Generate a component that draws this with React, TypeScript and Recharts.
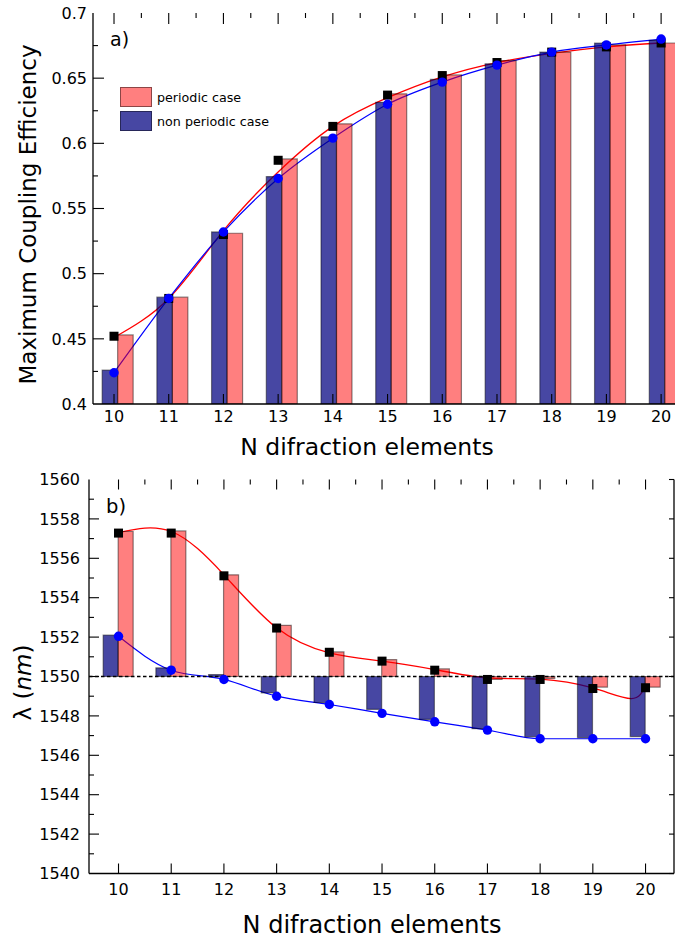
import React from 'react';
import { ComposedChart, Bar, Line, XAxis, YAxis, ReferenceLine, Legend, Rectangle } from 'recharts';

// ---------- data ----------
const N_ELEMENTS = [10, 11, 12, 13, 14, 15, 16, 17, 18, 19, 20];

// panel a) maximum coupling efficiency
const TOP_PERIODIC_BARS = [0.453, 0.482, 0.531, 0.588, 0.615, 0.638, 0.6525, 0.6635, 0.670, 0.6755, 0.677];
const TOP_NONPERIODIC_BARS = [0.426, 0.482, 0.532, 0.5745, 0.605, 0.6315, 0.649, 0.661, 0.670, 0.677, 0.679];
const TOP_PERIODIC_POINTS = [0.452, 0.481, 0.530, 0.587, 0.613, 0.637, 0.652, 0.662, 0.670, 0.674, 0.677];
const TOP_NONPERIODIC_POINTS = [0.424, 0.481, 0.532, 0.573, 0.604, 0.630, 0.647, 0.660, 0.670, 0.6755, 0.680];
const TOP_PERIODIC_FIT = [0.451, 0.481, 0.533, 0.578, 0.613, 0.635, 0.651, 0.662, 0.669, 0.674, 0.677];

// panel b) wavelength
const LAMBDA_REF = 1550;
const BOT_PERIODIC_BARS = [1557.36, 1557.39, 1555.16, 1552.6, 1551.25, 1550.86, 1550.39, 1549.85, 1549.9, 1549.46, 1549.46];
const BOT_NONPERIODIC_BARS = [1552.1, 1550.44, 1550.1, 1549.17, 1548.68, 1548.33, 1547.82, 1547.35, 1546.95, 1546.9, 1546.95];
const BOT_PERIODIC_POINTS = [1557.28, 1557.28, 1555.11, 1552.46, 1551.23, 1550.78, 1550.32, 1549.85, 1549.85, 1549.39, 1549.43];
const BOT_NONPERIODIC_POINTS = [1552.04, 1550.32, 1549.85, 1549.0, 1548.58, 1548.13, 1547.7, 1547.28, 1546.84, 1546.84, 1546.84];
const BOT_PERIODIC_FIT_X = [10, 11, 12, 13, 14, 15, 16, 17, 18, 19, 19.73, 20];
const BOT_PERIODIC_FIT_Y = [1557.3, 1557.36, 1555.16, 1552.47, 1551.2, 1550.78, 1550.35, 1549.93, 1549.87, 1549.42, 1548.88, 1549.55];

// ticks
const X_ALL_TICKS = [10, 10.5, 11, 11.5, 12, 12.5, 13, 13.5, 14, 14.5, 15, 15.5, 16, 16.5, 17, 17.5, 18, 18.5, 19, 19.5, 20];
const TOP_Y_TICKS = [0.4, 0.45, 0.5, 0.55, 0.6, 0.65, 0.7];
const TOP_Y_ALL_TICKS = [0.425, 0.45, 0.475, 0.5, 0.525, 0.55, 0.575, 0.6, 0.625, 0.65, 0.675];
const BOT_Y_TICKS = [1540, 1542, 1544, 1546, 1548, 1550, 1552, 1554, 1556, 1558, 1560];
const BOT_Y_ALL_TICKS = [1541, 1542, 1543, 1544, 1545, 1546, 1547, 1548, 1549, 1550, 1551, 1552, 1553, 1554, 1555, 1556, 1557, 1558, 1559];

const LEGEND_NAMES = ['periodic case', 'non periodic case'];

const topData = N_ELEMENTS.map((x, i) => ({
  x,
  perBar: TOP_PERIODIC_BARS[i],
  nonBar: TOP_NONPERIODIC_BARS[i],
  perPt: TOP_PERIODIC_POINTS[i],
  nonPt: TOP_NONPERIODIC_POINTS[i],
  perFit: TOP_PERIODIC_FIT[i],
}));

const botData = N_ELEMENTS.map((x, i) => ({
  x,
  perBar: BOT_PERIODIC_BARS[i],
  nonBar: BOT_NONPERIODIC_BARS[i],
  perPt: BOT_PERIODIC_POINTS[i],
  nonPt: BOT_NONPERIODIC_POINTS[i],
}));

const botFit = BOT_PERIODIC_FIT_X.map((x, i) => ({ fx: x, perFit: BOT_PERIODIC_FIT_Y[i] }));

// ---------- styles ----------
const FONT = '"DejaVu Sans", Verdana, sans-serif';
const RED_FILL = 'rgba(255,0,0,0.5)';
const BLUE_FILL = 'rgba(0,0,128,0.72)';
const BAR_STROKE = 'rgba(0,0,0,0.45)';
const AXIS_LINE = { stroke: '#000', strokeWidth: 1.3 };
const TICK_STYLE = { fontSize: 16, fill: '#000', fontFamily: FONT };
const TICK_COLOR = '#000';

const TOP_X_DOMAIN: [number, number] = [9.616, 20.4];
const TOP_Y_DOMAIN: [number, number] = [0.4, 0.7];
const BOT_X_DOMAIN: [number, number] = [9.44, 20.54];
const BOT_Y_DOMAIN: [number, number] = [1540, 1560];

// plot sizes in px, used to express tick-mark lengths in axis units
const TOP_PLOT_W = 589.9;
const TOP_PLOT_H = 391;
const BOT_PLOT_W = 585;
const BOT_PLOT_H = 394;
const TOP_PX_X = (TOP_X_DOMAIN[1] - TOP_X_DOMAIN[0]) / TOP_PLOT_W;
const TOP_PX_Y = (TOP_Y_DOMAIN[1] - TOP_Y_DOMAIN[0]) / TOP_PLOT_H;
const BOT_PX_X = (BOT_X_DOMAIN[1] - BOT_X_DOMAIN[0]) / BOT_PLOT_W;
const BOT_PX_Y = (BOT_Y_DOMAIN[1] - BOT_Y_DOMAIN[0]) / BOT_PLOT_H;

const Square = (p: any) =>
  p.cx == null || p.cy == null ? (
    <g key={`sq${p.index}`} />
  ) : (
    <rect key={`sq${p.index}`} x={p.cx - 4.5} y={p.cy - 4.5} width={9} height={9} fill="#000" />
  );

const Dot = (p: any) =>
  p.cx == null || p.cy == null ? (
    <g key={`ci${p.index}`} />
  ) : (
    <circle key={`ci${p.index}`} cx={p.cx} cy={p.cy} r={4.7} fill="#0000ff" />
  );

const shifted = (dx: number) => (p: any) => <Rectangle {...p} x={p.x + dx} />;

const tickSeg = (key: string, a: { x: number; y: number }, b: { x: number; y: number }, w = 1.1) => (
  <ReferenceLine key={key} segment={[a, b]} stroke={TICK_COLOR} strokeWidth={w} ifOverflow="visible" zIndex={460} />
);

const LegendBox = (props: any) => {
  const all = props.payload || [];
  const items = LEGEND_NAMES.map((n) => all.find((it: any) => it.value === n)).filter(Boolean);
  return (
    <div style={{ fontFamily: FONT, fontSize: 12.7, color: '#000' }}>
      {items.map((it: any, i: number) => (
        <div key={i} style={{ display: 'flex', alignItems: 'center', height: 24 }}>
          <span
            style={{
              display: 'inline-block',
              width: 32,
              height: 20,
              background: it.color,
              border: '1px solid rgba(0,0,0,0.45)',
              boxSizing: 'border-box',
            }}
          />
          <span style={{ marginLeft: 5 }}>{it.value}</span>
        </div>
      ))}
    </div>
  );
};

export default function App() {
  return (
    <div style={{ position: 'relative', width: 675, height: 942, overflow: 'hidden', background: '#fff' }}>
      <style>{`html,body{margin:0;padding:0;overflow:hidden;background:#fff}`}</style>

      {/* ---------- panel a ---------- */}
      <div style={{ position: 'absolute', left: 0, top: 0 }}>
        <ComposedChart
          width={700}
          height={475}
          data={topData}
          margin={{ top: 13, right: 17, bottom: 0, left: 0 }}
          barGap={0}
          barSize={15.5}
        >
          <XAxis
            xAxisId={0}
            dataKey="x"
            type="number"
            domain={TOP_X_DOMAIN}
            allowDataOverflow
            ticks={N_ELEMENTS}
            interval={0}
            tickLine={false}
            tickSize={0}
            tickMargin={7}
            height={71}
            axisLine={AXIS_LINE}
            tick={TICK_STYLE}
          />
          <XAxis
            xAxisId="top"
            orientation="top"
            type="number"
            domain={TOP_X_DOMAIN}
            allowDataOverflow
            ticks={N_ELEMENTS}
            tick={false}
            tickLine={false}
            height={0}
            axisLine={AXIS_LINE}
          />
          <YAxis
            yAxisId={0}
            type="number"
            domain={TOP_Y_DOMAIN}
            allowDataOverflow
            ticks={TOP_Y_TICKS}
            interval={0}
            width={93}
            tickLine={false}
            tickSize={0}
            tickMargin={6}
            axisLine={AXIS_LINE}
            tick={TICK_STYLE}
          />

          <Line dataKey="perFit" type="natural" stroke="#ff0000" strokeWidth={1.3} dot={false} legendType="none" isAnimationActive={false} />
          <Line dataKey="nonPt" type="monotone" stroke="#0000ff" strokeWidth={1.2} dot={false} legendType="none" isAnimationActive={false} />
          <Line dataKey="perPt" stroke="none" dot={Square} activeDot={false} legendType="none" isAnimationActive={false} />
          <Line dataKey="nonPt" stroke="none" dot={Dot} activeDot={false} legendType="none" isAnimationActive={false} />

          <Bar
            dataKey="nonBar"
            name="non periodic case"
            fill={BLUE_FILL}
            stroke={BAR_STROKE}
            strokeWidth={1.2}
            shape={shifted(3.5)}
            zIndex={450}
            isAnimationActive={false}
          />
          <Bar
            dataKey="perBar"
            name="periodic case"
            fill={RED_FILL}
            stroke={BAR_STROKE}
            strokeWidth={1.2}
            shape={shifted(3.5)}
            zIndex={450}
            isAnimationActive={false}
          />

          {X_ALL_TICKS.map((v) =>
            tickSeg(
              `tt${v}`,
              { x: v, y: TOP_Y_DOMAIN[1] },
              { x: v, y: TOP_Y_DOMAIN[1] - (N_ELEMENTS.includes(v) ? 11 : 5) * TOP_PX_Y }
            )
          )}
          {N_ELEMENTS.map((v) =>
            tickSeg(`tb${v}`, { x: v, y: TOP_Y_DOMAIN[0] }, { x: v, y: TOP_Y_DOMAIN[0] + 10 * TOP_PX_Y })
          )}
          {TOP_Y_ALL_TICKS.map((v) =>
            tickSeg(
              `tl${v}`,
              { x: TOP_X_DOMAIN[0], y: v },
              { x: TOP_X_DOMAIN[0] + (TOP_Y_TICKS.includes(v) ? 11 : 5) * TOP_PX_X, y: v }
            )
          )}

          <Legend
            layout="vertical"
            align="center"
            verticalAlign="middle"
            content={LegendBox}
            wrapperStyle={{ position: 'absolute', left: 120, top: 85, width: 'auto', height: 'auto' }}
          />

          <text x={110} y={45.5} fontFamily={FONT} fontSize={19} fill="#000">a)</text>
          <text x={367} y={455} textAnchor="middle" fontFamily={FONT} fontSize={23.5} fill="#000">
            N difraction elements
          </text>
          <text
            x={35.5}
            y={214.5}
            textAnchor="middle"
            fontFamily={FONT}
            fontSize={23}
            fill="#000"
            transform="rotate(-90 35.5 214.5)"
          >
            Maximum Coupling Efficiency
          </text>
        </ComposedChart>
      </div>

      {/* ---------- panel b ---------- */}
      <div style={{ position: 'absolute', left: 0, top: 455 }}>
        <ComposedChart
          width={675}
          height={487}
          data={botData}
          margin={{ top: 24.5, right: 1, bottom: 0, left: 0 }}
          barGap={0}
          barSize={15}
        >
          <XAxis
            xAxisId={0}
            dataKey="x"
            type="number"
            domain={BOT_X_DOMAIN}
            allowDataOverflow
            ticks={N_ELEMENTS}
            interval={0}
            tickLine={false}
            tickSize={0}
            tickMargin={10}
            height={68.5}
            axisLine={AXIS_LINE}
            tick={TICK_STYLE}
          />
          <XAxis xAxisId="fit" dataKey="fx" type="number" domain={BOT_X_DOMAIN} allowDataOverflow hide />
          <XAxis
            xAxisId="top"
            orientation="top"
            type="number"
            domain={BOT_X_DOMAIN}
            allowDataOverflow
            ticks={N_ELEMENTS}
            tick={false}
            tickLine={false}
            height={0}
            axisLine={AXIS_LINE}
          />
          <YAxis
            yAxisId={0}
            type="number"
            domain={BOT_Y_DOMAIN}
            allowDataOverflow
            ticks={BOT_Y_TICKS}
            interval={0}
            width={89}
            tickLine={false}
            tickSize={0}
            tickMargin={9}
            axisLine={AXIS_LINE}
            tick={TICK_STYLE}
          />

          <Line data={botFit} xAxisId="fit" dataKey="perFit" type="natural" stroke="#ff0000" strokeWidth={1.3} dot={false} legendType="none" isAnimationActive={false} />
          <Line dataKey="nonPt" type="monotone" stroke="#0000ff" strokeWidth={1.2} dot={false} legendType="none" isAnimationActive={false} />
          <Line dataKey="perPt" stroke="none" dot={Square} activeDot={false} legendType="none" isAnimationActive={false} />
          <Line dataKey="nonPt" stroke="none" dot={Dot} activeDot={false} legendType="none" isAnimationActive={false} />

          <Bar
            dataKey={(d: any) => [LAMBDA_REF, d.nonBar]}
            name="non periodic case"
            fill={BLUE_FILL}
            stroke={BAR_STROKE}
            strokeWidth={1.2}
            zIndex={450}
            isAnimationActive={false}
          />
          <Bar
            dataKey={(d: any) => [LAMBDA_REF, d.perBar]}
            name="periodic case"
            fill={RED_FILL}
            stroke={BAR_STROKE}
            strokeWidth={1.2}
            zIndex={450}
            isAnimationActive={false}
          />
          <ReferenceLine y={LAMBDA_REF} stroke="#000" strokeWidth={1.5} strokeDasharray="3.5 2.5" zIndex={460} />

          {X_ALL_TICKS.map((v) =>
            tickSeg(
              `bt${v}`,
              { x: v, y: BOT_Y_DOMAIN[1] },
              { x: v, y: BOT_Y_DOMAIN[1] - (N_ELEMENTS.includes(v) ? 10 : 5) * BOT_PX_Y }
            )
          )}
          {N_ELEMENTS.map((v) =>
            tickSeg(`bb${v}`, { x: v, y: BOT_Y_DOMAIN[0] }, { x: v, y: BOT_Y_DOMAIN[0] + 10 * BOT_PX_Y })
          )}
          {BOT_Y_ALL_TICKS.map((v) =>
            tickSeg(
              `bl${v}`,
              { x: BOT_X_DOMAIN[0], y: v },
              { x: BOT_X_DOMAIN[0] + (BOT_Y_TICKS.includes(v) ? 10 : 5) * BOT_PX_X, y: v }
            )
          )}
          {BOT_Y_TICKS.map((v) =>
            tickSeg(`br${v}`, { x: BOT_X_DOMAIN[1], y: v }, { x: BOT_X_DOMAIN[1] - 5 * BOT_PX_X, y: v })
          )}
          {tickSeg('rspine', { x: BOT_X_DOMAIN[1], y: BOT_Y_DOMAIN[0] }, { x: BOT_X_DOMAIN[1], y: BOT_Y_DOMAIN[1] }, 1.3)}

          <text x={106} y={58} fontFamily={FONT} fontSize={19.5} fill="#000">b)</text>
          <text x={372} y={478} textAnchor="middle" fontFamily={FONT} fontSize={24} fill="#000">
            N difraction elements
          </text>
          <text
            x={31}
            y={227.5}
            textAnchor="middle"
            fontFamily={FONT}
            fontSize={23}
            fill="#000"
            transform="rotate(-90 31 227.5)"
          >
            λ (<tspan fontStyle="italic">nm</tspan>)
          </text>
        </ComposedChart>
      </div>
    </div>
  );
}
